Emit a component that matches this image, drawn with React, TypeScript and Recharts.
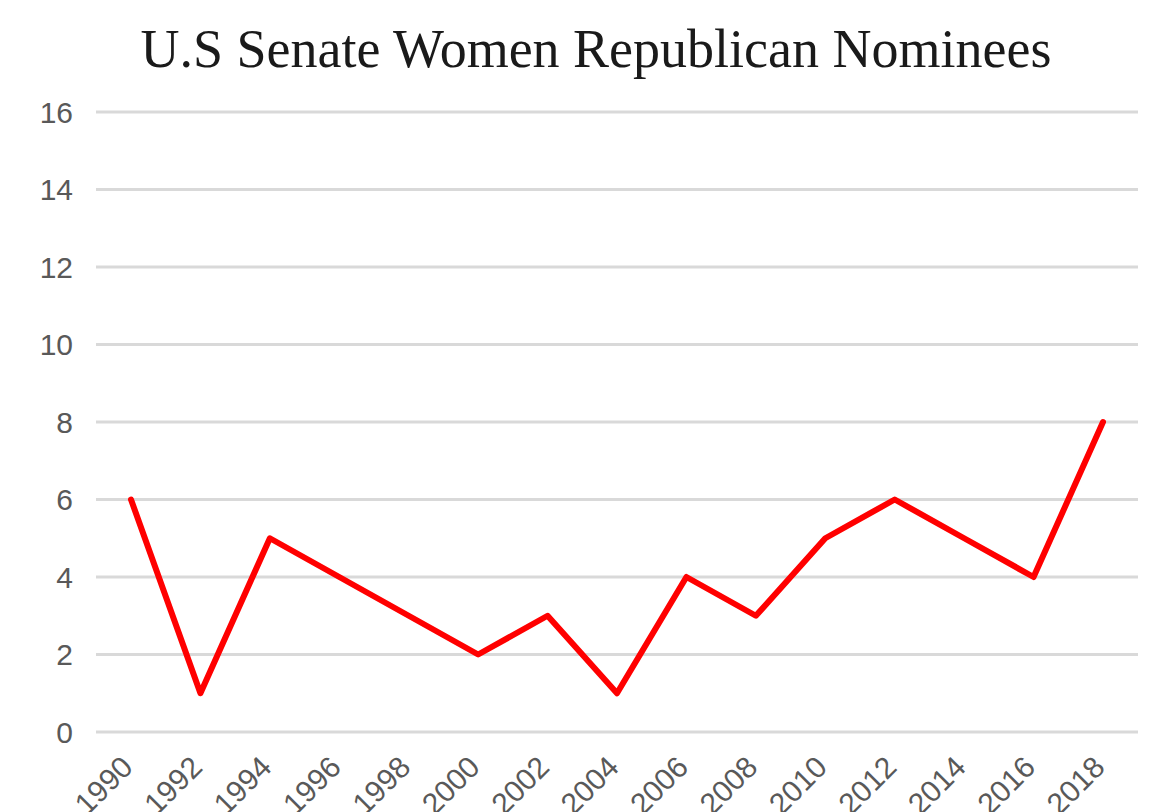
import React from 'react';
import { LineChart, Line, XAxis, YAxis, CartesianGrid } from 'recharts';

const years = ['1990', '1992', '1994', '1996', '1998', '2000', '2002', '2004', '2006', '2008', '2010', '2012', '2014', '2016', '2018'];
const nominees = [6, 1, 5, 4, 3, 2, 3, 1, 4, 3, 5, 6, 5, 4, 8];
const yTicks = [0, 2, 4, 6, 8, 10, 12, 14, 16];

const data = years.map((year, i) => ({ year, value: nominees[i] }));

const YearTick = (props: any) => {
    const { x, y, payload } = props;
    return (
        <g transform={`translate(${x},${y})`}>
            <text x={0} y={0} dx={-18} dy={23} textAnchor="end" transform="rotate(-45)" fill="#595959" fontSize={30} fontFamily="'Liberation Sans', Arial, sans-serif">
                {payload.value}
            </text>
        </g>
    );
};

const App = () => {
    return (
        <div style={{ position: 'relative', width: 1158, height: 804, background: '#fff' }}>
            <div style={{ position: 'absolute', left: 0, top: 10, width: 1176, textAlign: 'center', fontFamily: "'Liberation Serif', 'DejaVu Serif', serif", fontSize: 54, color: '#1a1a1a' }}>
                U.S Senate Women Republican Nominees
            </div>
            <LineChart width={1158} height={804} data={data} margin={{ top: 104, right: 28, bottom: 10, left: 28 }}>
                <CartesianGrid vertical={false} stroke="#d9d9d9" strokeWidth={3} />
                <XAxis dataKey="year" axisLine={false} tickLine={false} height={70} padding={{ left: 35, right: 35 }} tick={<YearTick />} interval={0} />
                <YAxis domain={[0, 16]} ticks={yTicks} axisLine={false} tickLine={false} tickSize={0} tickMargin={23} width={60} tick={{ fill: '#595959', fontSize: 30, fontFamily: "'Liberation Sans', Arial, sans-serif" }} />
                <Line type="linear" dataKey="value" stroke="#ff0000" strokeWidth={6} strokeLinecap="round" strokeLinejoin="round" dot={false} isAnimationActive={false} />
            </LineChart>
        </div>
    );
};

export default App;
